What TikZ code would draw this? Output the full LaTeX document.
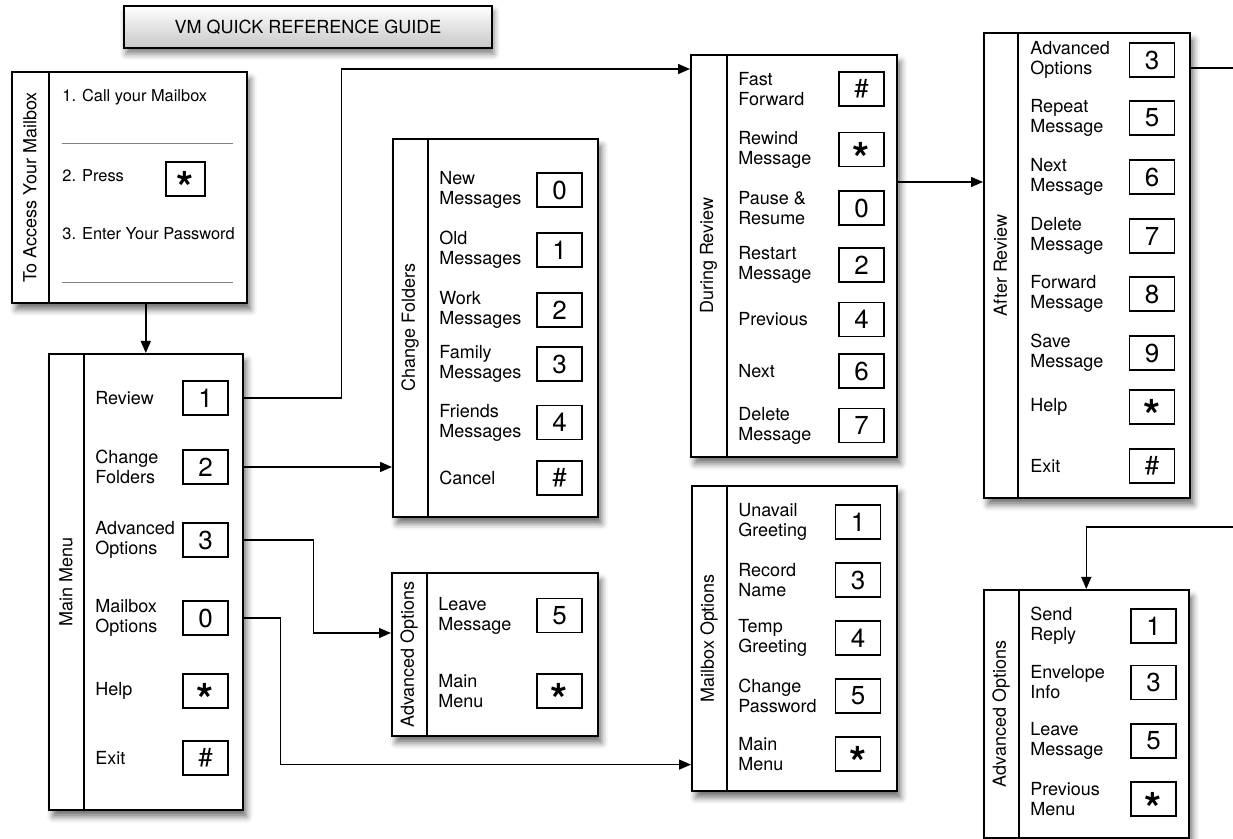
\documentclass[tikz,border=0pt]{standalone}
\usepackage{fontspec}
\setmainfont{TeX Gyre Heros}
\usepackage{tikz}
\usetikzlibrary{arrows.meta, shadows.blur}

\newcommand{\itemfont}{\fontsize{9}{10}\selectfont}
\newcommand{\keyast}{\smash{\raisebox{-12.5pt}{\fontsize{22}{22}\selectfont\bfseries *}}}

\tikzset{
  panel/.style={draw, line width=0.8pt, fill=white, anchor=north west, inner sep=0pt,
    blur shadow={shadow xshift=2pt, shadow yshift=-3.5pt, shadow blur radius=3pt, shadow opacity=55}},
  ptitle/.style={rotate=90, font=\itemfont, inner sep=0pt},
  item/.style={anchor=west, align=left, font=\itemfont, inner sep=0pt},
  key/.style={draw, line width=0.6pt, minimum width=22.5pt, minimum height=17pt, inner sep=0pt,
    font=\fontsize{13}{13}\selectfont},
  line/.style={line width=0.7pt},
  arr/.style={line width=0.7pt, -{Triangle[length=6pt,width=5pt]}}
}

\begin{document}
\begin{tikzpicture}[x=0.5pt, y=-0.5pt]
    \useasboundingbox (0,0) rectangle (1233,839);

    % Titolo
    \node[draw, line width=0.8pt, top color=white, bottom color=black!22, minimum width=184pt,
      minimum height=21pt, font=\itemfont,
      blur shadow={shadow xshift=1pt, shadow yshift=-3pt, shadow blur radius=3pt, shadow opacity=50}]
      (title) at (308,27) {VM QUICK REFERENCE GUIDE};

    % Accesso
    \node[panel, minimum width=117.5pt, minimum height=115.5pt] (acc) at (11,71) {};
    \draw[line width=0.8pt] ([xshift=19pt]acc.north west) -- ([xshift=19pt]acc.south west);
    \node[ptitle] (acc-t) at ([xshift=9.5pt]acc.west) {To Access Your Mailbox};
    \node[item, font=\fontsize{8.2}{10}\selectfont] (acc-1) at (62,97) {1. Call your Mailbox};
    \draw[gray, line width=0.4pt] (62,143) -- (233,143);
    \node[item, font=\fontsize{8.2}{10}\selectfont] (acc-2) at (62,176) {2. Press};
    \node[key, minimum width=19.5pt] (acc-k) at (185.5,179) {\keyast};
    \node[item, font=\fontsize{8.2}{10}\selectfont] (acc-3) at (62,234) {3. Enter Your Password};
    \draw[gray, line width=0.4pt] (62,282) -- (233,282);

    % Menu principale
    \node[panel, minimum width=97pt, minimum height=228pt] (mm) at (48,353) {};
    \draw[line width=0.8pt] ([xshift=18pt]mm.north west) -- ([xshift=18pt]mm.south west);
    \node[ptitle] (mm-t) at ([xshift=9pt]mm.west) {Main Menu};
    \foreach \y/\t/\k [count=\i] in {398/Review/1, 467/{Change\\Folders}/2,
        540/{Advanced\\Options}/3, 618/{Mailbox\\Options}/0, 691/Help/\keyast, 758/Exit/\#} {
      \node[item] (mm-i\i) at (95,\y) {\t};
      \node[key] (mm-k\i) at (205.5,\y) {\k};
    }

    % Cartelle
    \node[panel, minimum width=102.5pt, minimum height=189pt] (cf) at (392,138) {};
    \draw[line width=0.8pt] ([xshift=18pt]cf.north west) -- ([xshift=18pt]cf.south west);
    \node[ptitle] (cf-t) at ([xshift=9pt]cf.west) {Change Folders};
    \foreach \y/\t/\k [count=\i] in {190/{New\\Messages}/0, 250/{Old\\Messages}/1,
        310/{Work\\Messages}/2, 364/{Family\\Messages}/3, 422.5/{Friends\\Messages}/4, 478/Cancel/\#} {
      \node[item] (cf-i\i) at (439,\y) {\t};
      \node[key] (cf-k\i) at (559.5,\y) {\k};
    }

    % Opzioni avanzate
    \node[panel, minimum width=103pt, minimum height=81.5pt] (ao) at (391,572) {};
    \draw[line width=0.8pt] ([xshift=18pt]ao.north west) -- ([xshift=18pt]ao.south west);
    \node[ptitle] (ao-t) at ([xshift=9pt]ao.west) {Advanced Options};
    \foreach \y/\t/\k [count=\i] in {615.5/{Leave\\Message}/5, 691/{Main\\Menu}/\keyast} {
      \node[item] (ao-i\i) at (438,\y) {\t};
      \node[key] (ao-k\i) at (559.5,\y) {\k};
    }

    % Durante l'ascolto
    \node[panel, minimum width=103pt, minimum height=201pt] (dr) at (690,54) {};
    \draw[line width=0.8pt] ([xshift=18.5pt]dr.north west) -- ([xshift=18.5pt]dr.south west);
    \node[ptitle] (dr-t) at ([xshift=9.25pt]dr.west) {During Review};
    \foreach \y/\t/\k [count=\i] in {89/{Fast\\Forward}/\#, 149.5/{Rewind\\Message}/\keyast,
        208/{Pause \&\\Resume}/0, 265/{Restart\\Message}/2, 319.5/Previous/4, 371/Next/6,
        425.5/{Delete\\Message}/7} {
      \node[item] (dr-i\i) at (738,\y) {\t};
      \node[key] (dr-k\i) at (861.5,\y) {\k};
    }

    % Opzioni casella
    \node[panel, minimum width=102.5pt, minimum height=152.5pt] (mo) at (691,485) {};
    \draw[line width=0.8pt] ([xshift=18pt]mo.north west) -- ([xshift=18pt]mo.south west);
    \node[ptitle] (mo-t) at ([xshift=9pt]mo.west) {Mailbox Options};
    \foreach \y/\t/\k [count=\i] in {522/{Unavail\\Greeting}/1, 580/{Record\\Name}/3,
        638/{Temp\\Greeting}/4, 696/{Change\\Password}/5, 754/{Main\\Menu}/\keyast} {
      \node[item] (mo-i\i) at (738,\y) {\t};
      \node[key] (mo-k\i) at (858,\y) {\k};
    }

    % Dopo l'ascolto
    \node[panel, minimum width=103pt, minimum height=232.5pt] (ar) at (983,32) {};
    \draw[line width=0.8pt] ([xshift=17.5pt]ar.north west) -- ([xshift=17.5pt]ar.south west);
    \node[ptitle] (ar-t) at ([xshift=8.75pt]ar.west) {After Review};
    \foreach \y/\t/\k [count=\i] in {60/{Advanced\\Options}/3, 118/{Repeat\\Message}/5,
        177/{Next\\Message}/6, 236/{Delete\\Message}/7, 294/{Forward\\Message}/8,
        353/{Save\\Message}/9, 407/Help/\keyast, 466/Exit/\#} {
      \node[item] (ar-i\i) at (1030,\y) {\t};
      \node[key] (ar-k\i) at (1152,\y) {\k};
    }

    % Opzioni avanzate (dopo)
    \node[panel, minimum width=102.5pt, minimum height=124pt] (aor) at (983,589) {};
    \draw[line width=0.8pt] ([xshift=18pt]aor.north west) -- ([xshift=18pt]aor.south west);
    \node[ptitle] (aor-t) at ([xshift=9pt]aor.west) {Advanced Options};
    \foreach \y/\t/\k [count=\i] in {626/{Send\\Reply}/1, 682.5/{Envelope\\Info}/3,
        741/{Leave\\Message}/5, 799/{Previous\\Menu}/\keyast} {
      \node[item] (aor-i\i) at (1030,\y) {\t};
      \node[key] (aor-k\i) at (1153.5,\y) {\k};
    }

    % Collegamenti
    \coordinate (outa) at (1233,68);
    \coordinate (outb) at (1233,527);
    \draw[arr] (mm.north |- acc.south) -- (mm.north);
    \draw[arr] (mm-k1 -| mm.east) -- ++(98,0) |- ([yshift=-7.5pt]dr.north west);
    \draw[arr] (mm-k2 -| mm.east) -- (mm-k2 -| cf.west);
    \draw[arr] (mm-k3 -| mm.east) -- ++(70,0) |- ([yshift=-30.5pt]ao.north west);
    \draw[arr] (mm-k4 -| mm.east) -- ++(37,0) |- ([yshift=13.5pt]mo.south west);
    \draw[arr] ([yshift=-64pt]dr.north east) -- ([yshift=-64pt]dr.north east -| ar.west);
    \draw[line] (outa -| ar.east) -- (outa);
    \draw[arr] (outb) -| (aor.north);
\end{tikzpicture}
\end{document}
